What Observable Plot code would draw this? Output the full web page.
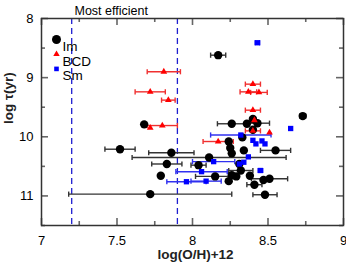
<!DOCTYPE html>
<html>
<head>
<meta charset="utf-8">
<script src="https://cdn.jsdelivr.net/npm/d3@7"></script>
<script src="https://cdn.jsdelivr.net/npm/@observablehq/plot@0.6"></script>
<style>
  html, body { margin: 0; padding: 0; background: #fff; }
  svg { font-family: "Liberation Sans", Arial, sans-serif; }
</style>
</head>
<body>
<div id="chart"></div>
<script>
// ---- data ----
const imX   = [8.17, 8.73, 7.68, 8.26, 8.36, 8.40, 8.43, 8.40, 8.33, 8.24, 8.25, 8.26, 8.34, 8.55, 7.52, 7.86, 8.11, 7.83, 8.04, 8.31, 8.32, 7.79, 8.15, 8.24, 8.26, 8.29, 8.38, 8.41, 8.47, 8.51, 7.72, 8.48];
const imY   = [8.62, 9.65, 9.79, 9.78, 9.78, 9.70, 9.77, 9.88, 10.01, 10.08, 10.19, 10.28, 10.23, 10.23, 10.21, 10.27, 10.35, 10.46, 10.48, 10.46, 10.57, 10.66, 10.67, 10.75, 10.65, 10.67, 10.66, 10.81, 10.73, 10.71, 10.97, 10.98];
const imErr = [0.05, 0.02, 0, 0.095, 0, 0, 0.08, 0, 0, 0, 0, 0, 0, 0.1, 0.1, 0.15, 0.51, 0.1, 0.05, 0, 0.08, 0, 0.13, 0, 0, 0, 0, 0.05, 0, 0.12, 0.54, 0.08];

const bcdX   = [7.81, 7.72, 7.84, 7.72, 7.80, 8.40, 8.37, 8.44, 8.40, 8.41, 8.40, 8.51, 8.17];
const bcdY   = [8.90, 9.24, 9.38, 9.85, 9.81, 9.11, 9.24, 9.25, 9.55, 9.72, 9.90, 9.93, 10.08];
const bcdErr = [0.11, 0.10, 0.045, 0, 0.10, 0.05, 0.055, 0.055, 0.05, 0, 0.05, 0, 0.10];

const smX   = [8.43, 8.65, 8.32, 8.40, 8.46, 8.42, 8.48, 8.37, 8.14, 8.34, 8.31, 8.06, 8.45, 7.96, 8.09];
const smY   = [8.41, 9.86, 9.97, 10.06, 10.07, 10.12, 10.12, 10.34, 10.42, 10.43, 10.46, 10.59, 10.57, 10.76, 10.75];
const smErr = [0.015, 0, 0.2, 0, 0, 0, 0, 0, 0.14, 0, 0, 0.17, 0.015, 0.13, 0.1];

const effLines = [7.2, 7.9];
const xMajor = [7, 7.5, 8, 8.5, 9];
const xMinor = [7.25, 7.75, 8.25, 8.75];
const yMajor = [8, 9, 10, 11];
const yMinor = [8.5, 9.5, 10.5, 11.5];
const legendLabels = ["Im", "BCD", "Sm"];
const titleText = "Most efficient";
const xLabel = "log(O/H)+12";
const yLabel = "log \u03C4(yr)";

// ---- build tables ----
const mk = (xs, ys, es) => xs.map((x, i) => ({x, y: ys[i], e: es[i]}));
const im = mk(imX, imY, imErr);
const bcd = mk(bcdX, bcdY, bcdErr);
const sm = mk(smX, smY, smErr);

const vbar = { draw(ctx, size) { const h = Math.sqrt(size / Math.PI); ctx.moveTo(0, -h); ctx.lineTo(0, h); } };

function errMarks(data, color) {
  const d = data.filter(p => p.e > 0);
  return [
    Plot.link(d, {x1: p => p.x - p.e, x2: p => p.x + p.e, y1: "y", y2: "y", stroke: color, strokeWidth: 1.4}),
    Plot.dot(d, {x: p => p.x - p.e, y: "y", symbol: vbar, r: 2.6, stroke: color, strokeWidth: 1.4}),
    Plot.dot(d, {x: p => p.x + p.e, y: "y", symbol: vbar, r: 2.6, stroke: color, strokeWidth: 1.4})
  ];
}

const W = 346, H = 266, mL = 41, mR = 3, mT = 18, mB = 41;
const fw = W - mL - mR, fh = H - mT - mB;
const tickCol = "#666";

const legendStyles = [
  {symbol: "circle", fill: "black", r: 4.5},
  {symbol: "triangle", fill: "red", r: 2.4},
  {symbol: "square", fill: "blue", r: 2.6}
];
const legendMarks = legendLabels.flatMap((lab, i) => [
  Plot.dot([lab], {frameAnchor: "top-left", dx: 15, dy: 21 + i * 14.7, symbol: legendStyles[i].symbol, fill: legendStyles[i].fill, r: legendStyles[i].r}),
  Plot.text([lab], {frameAnchor: "top-left", dx: 21, dy: 23 + i * 14.7, text: d => d, textAnchor: "start", fontSize: 13.5, fill: "black"})
]);

const chart = Plot.plot({
  width: W, height: H,
  marginLeft: mL, marginRight: mR, marginTop: mT, marginBottom: mB,
  style: {fontSize: "13px", fontFamily: "Liberation Sans, Arial, sans-serif", color: "black", background: "white"},
  x: {domain: [7, 9], ticks: xMajor, tickSize: 0, tickPadding: 10, tickFormat: d => String(d), label: null},
  y: {domain: [8, 11.5], reverse: true, ticks: yMajor, tickSize: 0, tickPadding: 8, tickFormat: d => String(d), label: null},
  marks: [
    // inward ticks
    Plot.ruleX(xMajor, {insetTop: fh - 7, stroke: tickCol, strokeWidth: 1.6}),
    Plot.ruleX(xMajor, {insetBottom: fh - 7, stroke: tickCol, strokeWidth: 1.6}),
    Plot.ruleX(xMinor, {insetTop: fh - 4, stroke: tickCol, strokeWidth: 1.6}),
    Plot.ruleX(xMinor, {insetBottom: fh - 4, stroke: tickCol, strokeWidth: 1.6}),
    Plot.ruleY(yMajor, {insetRight: fw - 7, stroke: tickCol, strokeWidth: 1.6}),
    Plot.ruleY(yMajor, {insetLeft: fw - 7, stroke: tickCol, strokeWidth: 1.6}),
    Plot.ruleY(yMinor, {insetRight: fw - 4, stroke: tickCol, strokeWidth: 1.6}),
    Plot.ruleY(yMinor, {insetLeft: fw - 4, stroke: tickCol, strokeWidth: 1.6}),
    // efficiency lines
    Plot.ruleX(effLines, {stroke: "#1f1fd0", strokeWidth: 1.3, strokeDasharray: "6,4"}),
    // error bars
    ...errMarks(im, "#333"),
    ...errMarks(bcd, "#f03030"),
    ...errMarks(sm, "#3030f0"),
    // points
    Plot.dot(im, {x: "x", y: "y", r: 4.2, fill: "black", symbol: "circle"}),
    Plot.dot(bcd, {x: "x", y: "y", r: 2.5, fill: "red", symbol: "triangle"}),
    Plot.dot(sm, {x: "x", y: "y", r: 3.0, fill: "blue", symbol: "square"}),
    // legend
    ...legendMarks,
    // frame
    Plot.frame({stroke: "#333", strokeWidth: 1.5}),
    // texts
    Plot.text([titleText], {frameAnchor: "top-left", dx: 33, dy: -12, text: d => d, textAnchor: "start", fontSize: 12.5, fill: "black"}),
    Plot.text([xLabel], {frameAnchor: "bottom", dx: 3, dy: 33, text: d => d, fontSize: 13.5, fontWeight: "bold", fill: "#222", letterSpacing: "0.7px"}),
    Plot.text([yLabel], {frameAnchor: "left", dx: -33, dy: 2, rotate: -90, text: d => d, fontSize: 13.5, fontWeight: "bold", fill: "#222", letterSpacing: "0.5px"})
  ]
});
document.getElementById("chart").appendChild(chart);
</script>
</body>
</html>
